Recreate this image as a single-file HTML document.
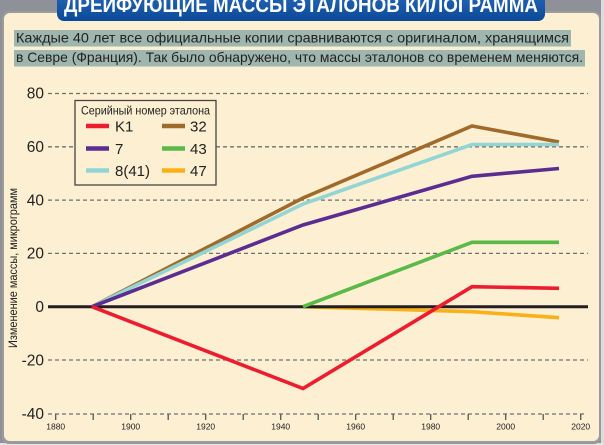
<!DOCTYPE html>
<html>
<head>
<meta charset="utf-8">
<style>
  html,body{margin:0;padding:0;background:#e9e9e9;}
  svg{display:block;}
  text{font-family:"Liberation Sans","Noto Sans CJK SC",sans-serif;}
</style>
</head>
<body>
<svg width="604" height="445" viewBox="0 0 604 445" xmlns="http://www.w3.org/2000/svg">
  <defs>
    <linearGradient id="bar" x1="0" y1="0" x2="0" y2="1">
      <stop offset="0" stop-color="#2a6ab8"/>
      <stop offset="1" stop-color="#0b4899"/>
    </linearGradient>
  </defs>
  <!-- frame -->
  <rect x="0" y="0" width="601" height="445" fill="#8f9198"/>
  <rect x="601" y="0" width="3" height="445" fill="#dcdcdc"/>
  <rect x="0" y="443" width="604" height="2" fill="#e4e4e4"/>
  <rect x="2" y="11" width="599" height="433" rx="7" fill="#9b9b9b"/>
  <rect x="4" y="13" width="595" height="428" rx="6" fill="#fdefd2"/>

  <!-- title bar -->
  <rect x="57" y="-10" width="488" height="31" rx="7" fill="url(#bar)"/>
  <text x="64" y="12" font-size="21" font-weight="bold" fill="#ffffff" textLength="474" lengthAdjust="spacingAndGlyphs">ДРЕЙФУЮЩИЕ МАССЫ ЭТАЛОНОВ КИЛОГРАММА</text>

  <!-- subtitle -->
  <rect x="14" y="30" width="557" height="16.5" fill="#9fb6ae"/>
  <rect x="14" y="50" width="571" height="16.5" fill="#9fb6ae"/>
  <text x="16" y="42.5" font-size="14" fill="#222" textLength="553" lengthAdjust="spacingAndGlyphs">Каждые 40 лет все официальные копии сравниваются с оригиналом, хранящимся</text>
  <text x="16" y="62" font-size="14" fill="#222" textLength="567" lengthAdjust="spacingAndGlyphs">в Севре (Франция). Так было обнаружено, что массы эталонов со временем меняются.</text>

  <!-- gridlines -->
  <g stroke="#6f6f6f" stroke-width="1.3" stroke-dasharray="4 3" fill="none">
    <line x1="48" y1="93.5" x2="588" y2="93.5"/>
    <line x1="48" y1="146.8" x2="588" y2="146.8"/>
    <line x1="48" y1="200.1" x2="588" y2="200.1"/>
    <line x1="48" y1="253.4" x2="588" y2="253.4"/>
    <line x1="48" y1="360" x2="588" y2="360"/>
    <line x1="48" y1="414" x2="586" y2="414"/>
  </g>

  <!-- x ticks -->
  <g stroke="#555" stroke-width="1.3">
    <line x1="55.7" y1="414" x2="55.7" y2="420"/>
    <line x1="93.2" y1="414" x2="93.2" y2="420"/>
    <line x1="130.7" y1="414" x2="130.7" y2="420"/>
    <line x1="168.2" y1="414" x2="168.2" y2="420"/>
    <line x1="205.7" y1="414" x2="205.7" y2="420"/>
    <line x1="243.2" y1="414" x2="243.2" y2="420"/>
    <line x1="280.7" y1="414" x2="280.7" y2="420"/>
    <line x1="318.2" y1="414" x2="318.2" y2="420"/>
    <line x1="355.7" y1="414" x2="355.7" y2="420"/>
    <line x1="393.2" y1="414" x2="393.2" y2="420"/>
    <line x1="430.7" y1="414" x2="430.7" y2="420"/>
    <line x1="468.2" y1="414" x2="468.2" y2="420"/>
    <line x1="505.7" y1="414" x2="505.7" y2="420"/>
    <line x1="543.2" y1="414" x2="543.2" y2="420"/>
    <line x1="580.7" y1="414" x2="580.7" y2="420"/>
  </g>
  <g font-size="8.5" fill="#222" text-anchor="middle">
    <text x="55.7" y="429.5">1880</text>
    <text x="130.7" y="429.5">1900</text>
    <text x="205.7" y="429.5">1920</text>
    <text x="280.7" y="429.5">1940</text>
    <text x="355.7" y="429.5">1960</text>
    <text x="430.7" y="429.5">1980</text>
    <text x="505.7" y="429.5">2000</text>
    <text x="580.7" y="429.5">2020</text>
  </g>

  <!-- y labels -->
  <g font-size="15.5" fill="#222" text-anchor="end">
    <text x="44" y="98.5">80</text>
    <text x="44" y="152">60</text>
    <text x="44" y="205.5">40</text>
    <text x="44" y="258.5">20</text>
    <text x="44" y="312">0</text>
    <text x="44" y="365.5">-20</text>
    <text x="44" y="419">-40</text>
  </g>
  <text transform="translate(17,348) rotate(-90)" font-size="11.5" fill="#222" textLength="160" lengthAdjust="spacingAndGlyphs">Изменение массы, микрограмм</text>

  <!-- series -->
  <g fill="none" stroke-width="3.6" stroke-linejoin="miter" stroke-linecap="butt">
    <polyline stroke="#fbb017" points="303,306.7 472,311.7 559,317.7"/>
  </g>
  <line x1="48" y1="306.7" x2="588" y2="306.7" stroke="#231f20" stroke-width="3"/>
  <g fill="none" stroke-width="3.6" stroke-linejoin="miter" stroke-linecap="butt">
    <polyline stroke="#5ab947" points="303,306.7 472,242.3 559,242.3"/>
    <polyline stroke="#a06a2a" points="92,306.7 303,198 472,126 559,142"/>
    <polyline stroke="#93d5d5" points="92,306.7 303,204 472,144.5 559,144.5"/>
    <polyline stroke="#5b2d91" points="92,306.7 303,225 472,176.3 559,168.5"/>
    <polyline stroke="#ed1c2e" points="92,306.7 303,388.5 472,286.7 559,288.3"/>
  </g>

  <!-- legend -->
  <rect x="75" y="100.5" width="141" height="84.5" fill="#fdefd2" stroke="#444" stroke-width="1.3"/>
  <text x="81" y="114.5" font-size="12" fill="#222" textLength="129" lengthAdjust="spacingAndGlyphs">Серийный номер эталона</text>
  <g stroke-width="4.5">
    <line x1="86" y1="126" x2="109" y2="126" stroke="#ed1c2e"/>
    <line x1="86" y1="148.5" x2="109" y2="148.5" stroke="#5b2d91"/>
    <line x1="86" y1="170.5" x2="109" y2="170.5" stroke="#93d5d5"/>
    <line x1="162" y1="126" x2="185" y2="126" stroke="#a06a2a"/>
    <line x1="162" y1="148.5" x2="185" y2="148.5" stroke="#5ab947"/>
    <line x1="162" y1="170.5" x2="185" y2="170.5" stroke="#fbb017"/>
  </g>
  <g font-size="15" fill="#222">
    <text x="115" y="131.5">K1</text>
    <text x="115" y="154">7</text>
    <text x="115" y="176">8(41)</text>
    <text x="190" y="131.5">32</text>
    <text x="190" y="154">43</text>
    <text x="190" y="176">47</text>
  </g>
</svg>
</body>
</html>
